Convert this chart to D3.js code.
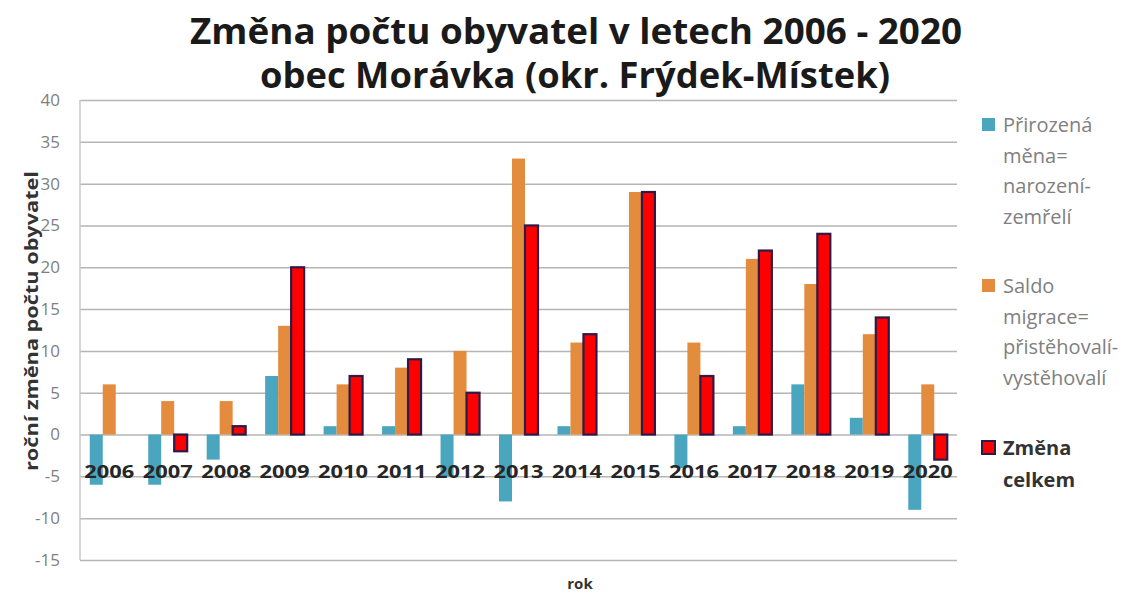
<!DOCTYPE html>
<html>
<head>
<meta charset="utf-8">
<script src="https://cdn.jsdelivr.net/npm/d3@7"></script>
<style>
  body { margin: 0; background: #fff; }
  svg { display: block; font-family: "Open Sans", "Liberation Sans", sans-serif; }
</style>
</head>
<body>
<svg id="chart" width="1137" height="593"></svg>
<script>
// data
const years = ["2006", "2007", "2008", "2009", "2010", "2011", "2012", "2013",
               "2014", "2015", "2016", "2017", "2018", "2019", "2020"];
const prirozena = [-6, -6, -3, 7, 1, 1, -5, -8, 1, 0, -4, 1, 6, 2, -9];
const saldo     = [6, 4, 4, 13, 6, 8, 10, 33, 11, 29, 11, 21, 18, 12, 6];
const celkem    = [0, -2, 1, 20, 7, 9, 5, 25, 12, 29, 7, 22, 24, 14, -3];
const yTicks = [-15, -10, -5, 0, 5, 10, 15, 20, 25, 30, 35, 40];

const seriesKeys = ["prirozena", "saldo", "celkem"];
const seriesValues = { prirozena: prirozena, saldo: saldo, celkem: celkem };
const legendLines = {
    prirozena: ["Přirozená", "měna=", "narození-", "zemřelí"],
    saldo: ["Saldo", "migrace=", "přistěhovalí-", "vystěhovalí"],
    celkem: ["Změna", "celkem"]
};

const colors = { prirozena: "#4aa5bf", saldo: "#e48c3e", celkem: "#ff0000" };
const redStroke = "#2e1a47";

const svg = d3.select("#chart");

// plot frame
const plotLeft = 80, plotRight = 957, plotTop = 100, plotBottom = 560;

let x = d3.scaleBand().domain(years).range([plotLeft, plotRight]).paddingInner(0).paddingOuter(0);
let step = x.step();
let barW = step / 4.5; // excel gap width 150%
let xs = d3.scaleBand().domain(seriesKeys)
    .range([0.75 * barW, 3.75 * barW]).padding(0);

let y = d3.scaleLinear().domain([-15, 40]).range([plotBottom, plotTop]);

function fit(sel, w) {
    sel.attr("textLength", w).attr("lengthAdjust", "spacingAndGlyphs");
}

/** GRID + Y AXIS **/
let yAxis = svg.append("g")
    .attr("transform", "translate(" + plotLeft + ",0)")
    .call(d3.axisLeft(y)
        .tickValues(yTicks)
        .tickFormat((d) => String(d)) // plain hyphen like the original
        .tickSize(-(plotRight - plotLeft))
        .tickPadding(20));

yAxis.select(".domain").remove();
yAxis.selectAll(".tick line")
    .attr("stroke", "#b5b5b5")
    .attr("stroke-width", 1.5);
yAxis.selectAll(".tick text")
    .attr("fill", "#7f7f7f")
    .attr("font-size", 17)
    .attr("font-family", "'Open Sans', sans-serif");

svg.append("line") // left frame line
    .attr("x1", plotLeft).attr("x2", plotLeft)
    .attr("y1", y(40)).attr("y2", y(-15))
    .attr("stroke", "#c8c8c8")
    .attr("stroke-width", 1.5);

/** BARS **/
seriesKeys.forEach(function (key) {
    let vals = seriesValues[key];
    svg.append("g").selectAll("rect")
        .data(years)
        .join("rect")
        .attr("x", (d) => x(d) + xs(key))
        .attr("width", xs.bandwidth())
        .attr("y", (d, i) => y(Math.max(0, vals[i])))
        .attr("height", (d, i) => Math.abs(y(vals[i]) - y(0)))
        .attr("fill", colors[key])
        .attr("stroke", (d, i) => (key === "celkem" && vals[i] !== 0) ? redStroke : "none")
        .attr("stroke-width", 2.2);
});

/** X LABELS (drawn over the bars like the original) **/
svg.append("g").selectAll("text")
    .data(years)
    .join("text")
    .attr("x", (d) => x(d) + step / 2)
    .attr("y", 478)
    .attr("text-anchor", "middle")
    .attr("font-size", 18)
    .attr("font-weight", "bold")
    .attr("fill", "#262626")
    .text((d) => d)
    .call(fit, 50);

/** TITLES **/
svg.append("text")
    .attr("x", 576).attr("y", 44)
    .attr("text-anchor", "middle")
    .attr("font-size", 35)
    .attr("font-weight", "bold")
    .attr("fill", "#1a1a1a")
    .text("Změna počtu obyvatel v letech 2006 - 2020")
    .call(fit, 772);

svg.append("text")
    .attr("x", 575).attr("y", 88)
    .attr("text-anchor", "middle")
    .attr("font-size", 35)
    .attr("font-weight", "bold")
    .attr("fill", "#1a1a1a")
    .text("obec Morávka (okr. Frýdek-Místek)")
    .call(fit, 630);

svg.append("text") // y axis title
    .attr("transform", "translate(38,321) rotate(-90)")
    .attr("text-anchor", "middle")
    .attr("font-size", 18)
    .attr("font-weight", "bold")
    .attr("fill", "#333")
    .text("roční změna počtu obyvatel")
    .call(fit, 300);

svg.append("text") // x axis title
    .attr("x", 580).attr("y", 589)
    .attr("text-anchor", "middle")
    .attr("font-size", 15)
    .attr("font-weight", "bold")
    .attr("fill", "#333")
    .text("rok");

/** LEGEND **/
const legendTop = { prirozena: 132, saldo: 293, celkem: 455 };
const lineH = 30.7;
let legend = svg.append("g");

seriesKeys.forEach(function (key) {
    let base = legendTop[key];
    let isTotal = key === "celkem";
    legend.append("rect")
        .attr("x", 982).attr("y", base - 14)
        .attr("width", 13).attr("height", 13)
        .attr("fill", colors[key])
        .attr("stroke", isTotal ? redStroke : "none")
        .attr("stroke-width", 2);

    legend.selectAll(null)
        .data(legendLines[key])
        .join("text")
        .attr("x", 1003)
        .attr("y", (d, i) => base + i * (isTotal ? 32 : lineH))
        .attr("font-size", 20)
        .attr("font-weight", isTotal ? "bold" : "normal")
        .attr("fill", isTotal ? "#333" : "#808080")
        .text((d) => d);
});
</script>
</body>
</html>
